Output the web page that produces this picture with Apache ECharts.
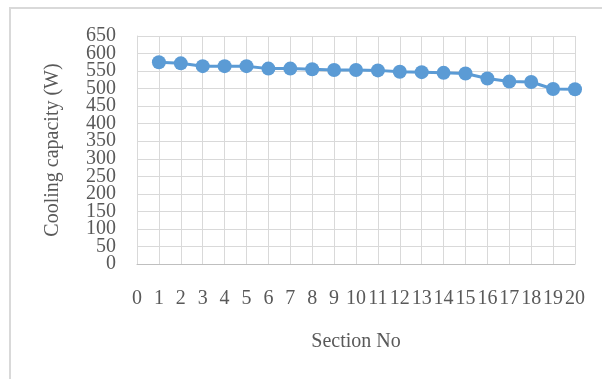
<!DOCTYPE html>
<html>
<head>
<meta charset="utf-8">
<script src="https://cdn.jsdelivr.net/npm/echarts@6/dist/echarts.min.js"></script>
<style>html,body{margin:0;padding:0;background:#fff}#c{width:602px;height:379px}</style>
</head>
<body>
<div id="c"></div>
<script>
var sections = [1,2,3,4,5,6,7,8,9,10,11,12,13,14,15,16,17,18,19,20];
var capacity = [575,572,564,564,564,557,557,555,553,553,552,548,547,545,543,529,520,519,499,498];
var yTicksEven = [0,100,200,300,400,500,600];
var yTicksOdd = [50,150,250,350,450,550,650];
var xName = 'Section No';
var yName = 'Cooling capacity (W)';

var chart = echarts.init(document.getElementById('c'));
var font = '"Liberation Serif", "Times New Roman", serif';
var txt = '#595959';
function yAx(vals, main) {
  return {
    type:'value', min:0, max:650, interval:50, position:'left',
    name: main ? yName : '', nameLocation:'middle', nameGap:74, nameRotate:90,
    nameTextStyle:{fontFamily:font, fontSize:20, color:txt},
    axisLine:{show:main, lineStyle:{color:'#d9d9d9', width:1}},
    axisTick:{show:false},
    axisLabel:{fontFamily:font, fontSize:20, color:txt, margin:21, customValues: vals, showMinLabel:true, showMaxLabel:true, hideOverlap:false},
    splitLine:{show:main, lineStyle:{color:'#d9d9d9', width:1}}
  };
}
chart.setOption({
  animation: false,
  backgroundColor: '#fff',
  graphic: [{type:'rect', shape:{x:10,y:8,width:600,height:380}, style:{fill:'none', stroke:'#d9d9d9', lineWidth:2}}],
  grid: {left:137, right:27, top:36, bottom:115},
  xAxis: {
    type:'value', min:0, max:20, interval:1,
    name:xName, nameLocation:'middle', nameGap:68,
    nameTextStyle:{fontFamily:font, fontSize:20, color:txt},
    axisLine:{show:true, lineStyle:{color:'#bfbfbf', width:1}},
    axisTick:{show:false},
    axisLabel:{fontFamily:font, fontSize:20, color:txt, margin:25, showMinLabel:true, showMaxLabel:true, hideOverlap:false},
    splitLine:{show:true, lineStyle:{color:'#d9d9d9', width:1}}
  },
  yAxis: [yAx(yTicksEven, true), yAx(yTicksOdd, false)],
  series: [{
    type:'line',
    yAxisIndex: 0,
    data: sections.map(function(s,i){return [s, capacity[i]];}),
    symbol:'circle', symbolSize:14,
    lineStyle:{color:'#5b9bd5', width:3},
    itemStyle:{color:'#5b9bd5'}
  }]
});
</script>
</body>
</html>
